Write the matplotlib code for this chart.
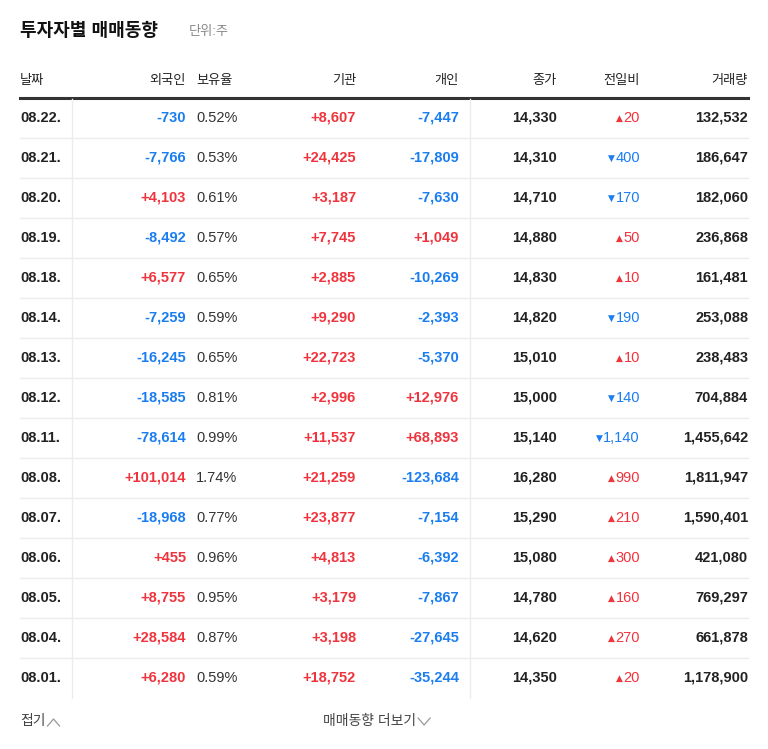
import matplotlib.pyplot as plt

plt.rcParams["font.family"] = ["Liberation Sans", "Noto Sans CJK KR", "Noto Sans CJK JP",
                               "Noto Sans CJK SC", "DejaVu Sans"]

RED = "#f0343d"
BLUE = "#1a7df0"
DARK = "#222222"

dates = ["08.22.", "08.21.", "08.20.", "08.19.", "08.18.", "08.14.", "08.13.", "08.12.",
         "08.11.", "08.08.", "08.07.", "08.06.", "08.05.", "08.04.", "08.01."]
foreign = [-730, -7766, 4103, -8492, 6577, -7259, -16245, -18585, -78614, 101014,
           -18968, 455, 8755, 28584, 6280]
holding = [0.52, 0.53, 0.61, 0.57, 0.65, 0.59, 0.65, 0.81, 0.99, 1.74, 0.77, 0.96, 0.95, 0.87, 0.59]
institution = [8607, 24425, 3187, 7745, 2885, 9290, 22723, 2996, 11537, 21259, 23877,
               4813, 3179, 3198, 18752]
individual = [-7447, -17809, -7630, 1049, -10269, -2393, -5370, 12976, 68893, -123684,
              -7154, -6392, -7867, -27645, -35244]
close = [14330, 14310, 14710, 14880, 14830, 14820, 15010, 15000, 15140, 16280, 15290,
         15080, 14780, 14620, 14350]
change = [20, -400, -170, 50, 10, -190, 10, -140, -1140, 990, 210, 300, 160, 270, 20]
volume = [132532, 186647, 182060, 236868, 161481, 253088, 238483, 704884, 1455642,
          1811947, 1590401, 421080, 769297, 661878, 1178900]

headers = ["날짜", "외국인", "보유율", "기관", "개인", "종가", "전일비", "거래량"]

W, H = 768, 749
fig = plt.figure(figsize=(W / 100, H / 100), dpi=100)
ax = fig.add_axes([0, 0, 1, 1])
ax.set_xlim(0, W)
ax.set_ylim(H, 0)
ax.axis("off")


def signed(v):
    return f"{v:+,}"


def col(v):
    return RED if v > 0 else BLUE


def right_edge(t):
    fig.canvas.draw()
    bb = t.get_window_extent()
    return bb.x0, bb.x1


fs = 10.5
ax.text(20, 31, "투자자별 매매동향", fontsize=13, fontweight="bold", color="#111111", va="center")
ax.text(189, 32, "단위:주", fontsize=9.5, color="#888888", va="center")

hx = [(20, "left"), (186, "right"), (196, "left"), (356, "right"), (459, "right"),
      (557, "right"), (640, "right"), (748, "right")]
for (x, ha), h in zip(hx, headers):
    ax.text(x, 81, h, fontsize=9.5, color=DARK, ha=ha, va="center")
ax.plot([20, 748], [97.5, 97.5], color="#333333", lw=2.2)

y0, dy = 118, 40
n = len(dates)
for i in range(n):
    y = y0 + i * dy
    if i < n - 1:
        ax.plot([20, 748], [y + 20, y + 20], color="#ececec", lw=1)
    ax.text(20, y, dates[i], fontsize=fs, fontweight="bold", color=DARK, ha="left", va="center")
    ax.text(186, y, signed(foreign[i]), fontsize=fs, fontweight="bold", color=col(foreign[i]),
            ha="right", va="center")
    ax.text(196, y, f"{holding[i]:.2f}%", fontsize=fs, color="#333333", ha="left", va="center")
    ax.text(356, y, signed(institution[i]), fontsize=fs, fontweight="bold",
            color=col(institution[i]), ha="right", va="center")
    ax.text(459, y, signed(individual[i]), fontsize=fs, fontweight="bold",
            color=col(individual[i]), ha="right", va="center")
    ax.text(557, y, f"{close[i]:,}", fontsize=fs, fontweight="bold", color=DARK,
            ha="right", va="center")
    c = col(change[i])
    t = ax.text(640, y, f"{abs(change[i]):,}", fontsize=fs, color=c, ha="right", va="center")
    x0, _ = right_edge(t)
    ax.text(x0 - 1, y, "▲" if change[i] > 0 else "▼", fontsize=6.5, color=c,
            ha="right", va="center", fontfamily="DejaVu Sans")
    ax.text(748, y, f"{volume[i]:,}", fontsize=fs, fontweight="bold", color=DARK,
            ha="right", va="center")

bottom = y0 + (n - 1) * dy + 20
for x in (72, 470):
    ax.plot([x, x], [98.5, bottom], color="#ececec", lw=1)

t = ax.text(20, 721, "접기", fontsize=10, color="#444444", va="center")
_, x1 = right_edge(t)
ax.plot([x1 + 2, x1 + 8, x1 + 14], [726, 719, 726], color="#999999", lw=0.9)
t = ax.text(323, 721, "매매동향 더보기", fontsize=10, color="#444444", va="center")
_, x1 = right_edge(t)
ax.plot([x1 + 2, x1 + 8, x1 + 14], [718, 725, 718], color="#999999", lw=0.9)

fig.savefig("out.png", dpi=100)
